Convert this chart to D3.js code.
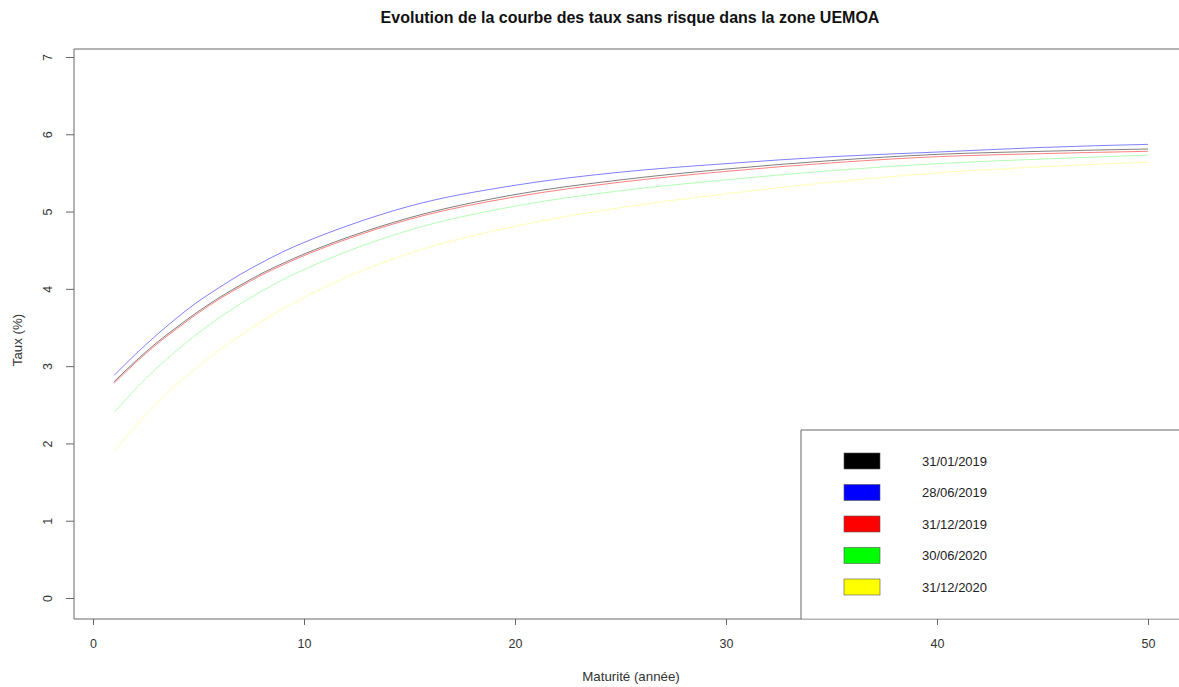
<!DOCTYPE html>
<html><head><meta charset="utf-8">
<script src="https://cdn.jsdelivr.net/npm/d3@7"></script>
<style>body{margin:0;background:#fff}svg{display:block;font-family:"Liberation Sans",Arial,sans-serif}</style>
</head><body><svg id="c" width="1179" height="687"></svg>
<script>
const maturities = [1,2,3,4,5,6,7,8,9,10,12,15,20,25,30,35,40,45,50];
const seriesNames = ["31/01/2019","28/06/2019","31/12/2019","30/06/2020","31/12/2020"];
const seriesColors = ["#000000","#0000ff","#ff0000","#00ff00","#ffff00"];
const rates_20190131 = [2.80,3.06,3.30,3.51,3.71,3.89,4.05,4.20,4.33,4.45,4.66,4.92,5.22,5.41,5.55,5.66,5.74,5.78,5.81];
const rates_20190628 = [2.88,3.15,3.40,3.63,3.84,4.02,4.19,4.34,4.48,4.60,4.81,5.07,5.34,5.51,5.62,5.71,5.77,5.83,5.87];
const rates_20191231 = [2.78,3.04,3.28,3.49,3.69,3.87,4.03,4.18,4.31,4.43,4.64,4.90,5.19,5.38,5.52,5.63,5.71,5.75,5.78];
const rates_20200630 = [2.40,2.70,2.97,3.21,3.43,3.63,3.81,3.97,4.12,4.25,4.48,4.76,5.07,5.27,5.41,5.53,5.62,5.68,5.73];
const rates_20201231 = [1.90,2.22,2.51,2.77,3.00,3.21,3.40,3.58,3.74,3.89,4.15,4.46,4.81,5.05,5.23,5.38,5.50,5.58,5.64];
const xTicks = [0,10,20,30,40,50];
const yTicks = [0,1,2,3,4,5,6,7];
const allSeries = [rates_20190131,rates_20190628,rates_20191231,rates_20200630,rates_20201231];
const seriesOpacity = [0.5,0.5,0.5,0.3,0.3];

const svg = d3.select("#c");
const x = d3.scaleLinear().domain([0,50]).range([93,1148]);
const y = d3.scaleLinear().domain([0,7]).range([598,57]);
const frame = {l:74, t:49, b:619, r:1200};
const axisCol = "#666";

svg.append("path").attr("d",`M${frame.r},${frame.t}H${frame.l}V${frame.b}H${frame.r}`)
  .attr("fill","none").attr("stroke",axisCol).attr("stroke-width",1);

const xAxis = d3.axisBottom(x).tickValues(xTicks).tickSize(6).tickPadding(14).tickFormat(d3.format("d"));
const gx = svg.append("g").attr("transform",`translate(0,${frame.b})`).call(xAxis);
gx.select(".domain").remove();
gx.selectAll("line").attr("stroke",axisCol);
gx.selectAll("text").attr("font-size",12.5).attr("fill","#333");

const yAxis = d3.axisLeft(y).tickValues(yTicks).tickSize(8).tickPadding(0).tickFormat(d3.format("d"));
const gy = svg.append("g").attr("transform",`translate(${frame.l},0)`).call(yAxis);
gy.select(".domain").remove();
gy.selectAll("line").attr("stroke",axisCol);
gy.selectAll("text").attr("font-size",12.5).attr("fill","#333")
  .attr("x",0).attr("dy",0).attr("text-anchor","middle")
  .attr("transform","translate(-22,0) rotate(-90)");

const line = d3.line().x((d,i)=>x(maturities[i])).y(d=>y(d)).curve(d3.curveMonotoneX);
allSeries.forEach((s,i)=>{
  svg.append("path").datum(s).attr("d",line).attr("fill","none")
    .attr("stroke",seriesColors[i]).attr("stroke-width",1)
    .attr("stroke-opacity", seriesOpacity[i]);
});

svg.append("rect").attr("x",801.5).attr("y",430.5).attr("width",400).attr("height",188).attr("fill","white");
svg.append("path").attr("d",`M${frame.r},430H801V${frame.b}`).attr("fill","none").attr("stroke",axisCol).attr("stroke-width",1);
const ly = d3.scalePoint().domain(seriesNames).range([461,587]);
seriesNames.forEach((n,i)=>{
  svg.append("rect").attr("x",844).attr("y",ly(n)-8).attr("width",36).attr("height",16)
    .attr("fill",seriesColors[i]).attr("stroke","#555").attr("stroke-width",0.6);
  svg.append("text").attr("x",922).attr("y",ly(n)+4.5).attr("font-size",13).attr("fill","#222").text(n);
});

svg.append("text").attr("x",630).attr("y",23).attr("text-anchor","middle")
  .attr("font-size",16).attr("font-weight","bold").attr("fill","#111")
  .text("Evolution de la courbe des taux sans risque dans la zone UEMOA");
svg.append("text").attr("x",631).attr("y",681).attr("text-anchor","middle")
  .attr("font-size",13.3).attr("fill","#333").text("Maturité (année)");
svg.append("text").attr("transform","translate(22,340) rotate(-90)").attr("text-anchor","middle")
  .attr("font-size",13.3).attr("fill","#333").text("Taux (%)");
</script></body></html>
